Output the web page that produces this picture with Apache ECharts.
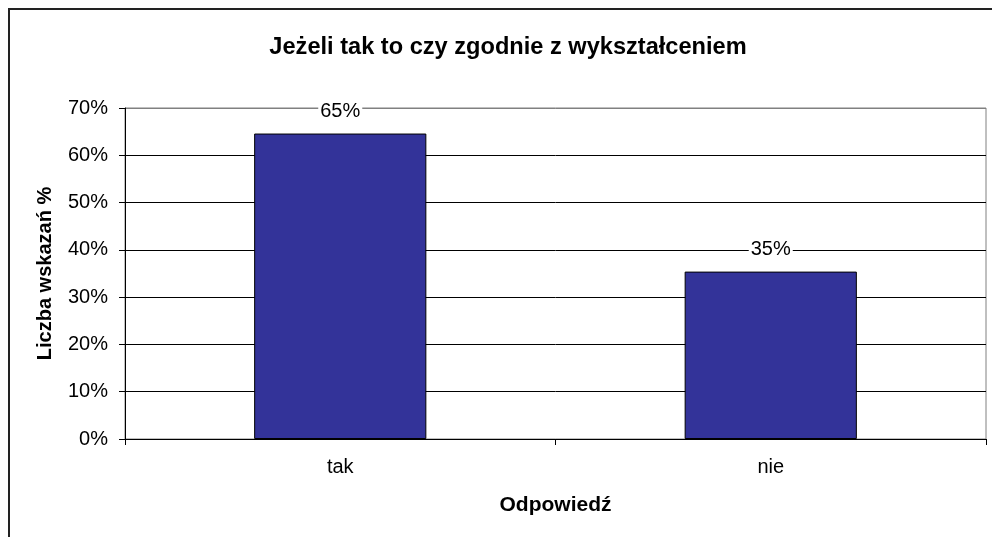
<!DOCTYPE html>
<html>
<head>
<meta charset="utf-8">
<script src="https://cdn.jsdelivr.net/npm/echarts@6/dist/echarts.min.js"></script>
<style>
html,body{margin:0;padding:0;background:#fff;}
#c{width:992px;height:537px;}
</style>
</head>
<body>
<div id="c"></div>
<script>
const categories = ['tak', 'nie'];
const values = [64.6, 35.4];
const yTicks = [0, 10, 20, 30, 40, 50, 60, 70];
const titleText = 'Jeżeli tak to czy zgodnie z wykształceniem';
const xName = 'Odpowiedź';
const yName = 'Liczba wskazań %';

const FONT = '"Liberation Sans", Arial, sans-serif';
const chart = echarts.init(document.getElementById('c'));
chart.setOption({
  animation: false,
  backgroundColor: '#fff',
  textStyle: { fontFamily: FONT },
  title: {
    text: titleText,
    left: 503, top: 30, textAlign: 'center',
    textStyle: { fontFamily: FONT, fontSize: 23.6, fontWeight: 'bold', color: '#000' }
  },
  graphic: [{
    type: 'polyline',
    shape: { points: [[9, 540], [9, 9], [1000, 9]] },
    style: { stroke: '#222', lineWidth: 2, fill: null },
    silent: true
  }],
  grid: {
    left: 125, top: 108, right: 6, bottom: 98,
    show: true, borderColor: '#808080', borderWidth: 1
  },
  xAxis: {
    type: 'category',
    data: categories,
    name: xName,
    nameLocation: 'middle',
    nameGap: 56,
    nameTextStyle: { fontFamily: FONT, fontSize: 21, fontWeight: 'bold', color: '#000' },
    axisLine: { lineStyle: { color: '#000', width: 1 } },
    axisTick: { show: true, length: 6, lineStyle: { color: '#000' } },
    axisLabel: { fontFamily: FONT, fontSize: 20, color: '#000', margin: 18 },
    splitLine: { show: false }
  },
  yAxis: {
    type: 'value',
    min: 0, max: 70, interval: 10,
    name: yName,
    nameLocation: 'middle',
    nameGap: 70,
    nameTextStyle: { fontFamily: FONT, fontSize: 20, fontWeight: 'bold', color: '#000' },
    axisLine: { show: true, lineStyle: { color: '#000', width: 1 } },
    axisTick: { show: true, length: 6, lineStyle: { color: '#000' } },
    axisLabel: {
      fontFamily: FONT, fontSize: 20, color: '#000', margin: 17,
      formatter: v => yTicks.includes(v) ? v + '%' : ''
    },
    splitLine: { show: true, lineStyle: { color: ['#000','#000','#000','#000','#000','#000','#000','#808080'], width: 1 } }
  },
  series: [{
    type: 'bar',
    data: values,
    barWidth: '40%',
    itemStyle: { color: '#333399', borderColor: '#000', borderWidth: 1 },
    label: {
      show: true, position: 'top', distance: 11,
      fontFamily: FONT, fontSize: 20, color: '#000',
      backgroundColor: '#fff', padding: [1, 2],
      formatter: p => Math.round(p.value) + '%'
    }
  }]
});
</script>
</body>
</html>
